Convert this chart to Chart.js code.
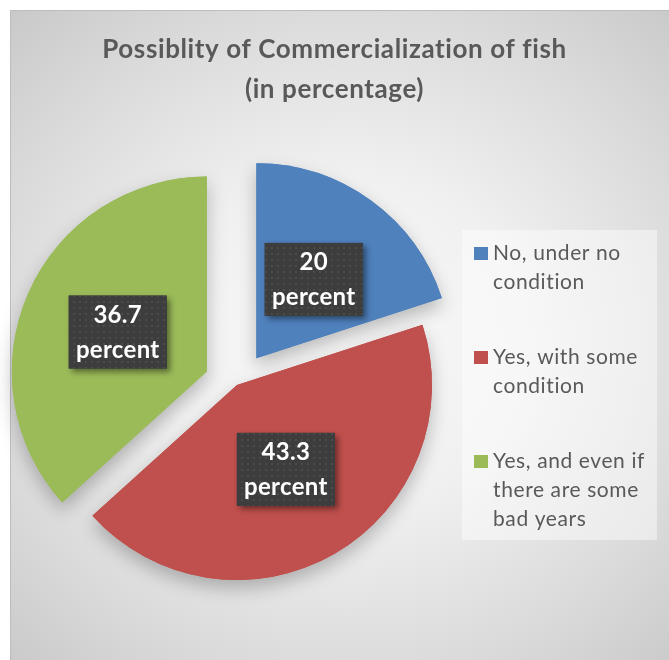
<!DOCTYPE html>
<html><head><meta charset="utf-8">
<script src="https://cdn.jsdelivr.net/npm/chart.js@4"></script>
<style>
html,body{margin:0;padding:0;width:669px;height:660px;overflow:hidden;background:#fff;}
#frame{position:absolute;left:10px;top:10px;width:700px;height:700px;border:1px solid #bdbdbd;
 background:radial-gradient(ellipse 520px 480px at 335px 330px,#fafafa 0%,#f0f0f0 35%,#dadada 70%,#c5c5c5 100%);}
#wrap{position:absolute;left:0;top:0;width:669px;height:660px;}
</style></head><body>
<div id="frame"></div>
<div id="wrap"><canvas id="c" width="669" height="660"></canvas></div>
<script>
const categories = [['No, under no','condition'],['Yes, with some','condition'],['Yes, and even if','there are some','bad years']];
const values = [20, 43.3, 36.7];
const valueUnit = 'percent';
const titleLines = ['Possiblity of Commercialization of fish','(in percentage)'];
const colors = ['#4F81BD','#C0504D','#9BBB59'];
const explode = [33, 0, 33];

const FONT = 'Lato, "Open Sans", sans-serif';
const TEXT = '#595959';

function offsetFor(arc, i){
  const mid = (arc.startAngle + arc.endAngle)/2;
  return {x: Math.cos(mid)*explode[i], y: Math.sin(mid)*explode[i]};
}

const explodePlugin = {
  id:'explode',
  beforeDatasetDraw(chart, args){
    const ctx = chart.ctx;
    const arcs = args.meta.data;
    arcs.forEach((arc,i)=>{
      const o = offsetFor(arc,i);
      ctx.save();
      ctx.shadowColor='rgba(0,0,0,0.25)'; ctx.shadowBlur=18; ctx.shadowOffsetY=8;
      ctx.translate(o.x,o.y);
      arc.draw(ctx);
      ctx.restore();
    });
    arcs.forEach((arc,i)=>{
      const o = offsetFor(arc,i);
      ctx.save();
      ctx.translate(o.x,o.y);
      arc.draw(ctx);
      ctx.restore();
    });
    return false;
  }
};

let patternCanvas = document.createElement('canvas');
patternCanvas.width = 6; patternCanvas.height = 6;
(function(){const p=patternCanvas.getContext('2d');p.fillStyle='#3d3d3d';p.fillRect(0,0,6,6);p.fillStyle='#4b4b4b';p.fillRect(1,1,2,2);})();

const labelPlugin = {
  id:'boxLabels',
  afterDatasetsDraw(chart){
    const ctx = chart.ctx;
    const meta = chart.getDatasetMeta(0);
    const pattern = ctx.createPattern(patternCanvas,'repeat');
    meta.data.forEach((arc,i)=>{
      const p = arc.tooltipPosition();
      const o = offsetFor(arc,i);
      const cx = p.x+o.x, cy = p.y+o.y;
      const w = 98, h = 73;
      ctx.save();
      ctx.shadowColor='rgba(0,0,0,0.45)'; ctx.shadowBlur=6; ctx.shadowOffsetX=3; ctx.shadowOffsetY=3;
      ctx.fillStyle='#3d3d3d';
      ctx.fillRect(cx-w/2, cy-h/2, w, h);
      ctx.restore();
      ctx.save();
      ctx.fillStyle=pattern;
      ctx.fillRect(cx-w/2, cy-h/2, w, h);
      ctx.fillStyle='#ffffff';
      ctx.font='bold 24px '+FONT;
      ctx.letterSpacing='0.3px';
      ctx.textAlign='center'; ctx.textBaseline='middle';
      ctx.fillText(String(values[i]), cx, cy-17);
      ctx.fillText(valueUnit, cx, cy+18);
      ctx.restore();
    });
  }
};

const titleLegendPlugin = {
  id:'titleLegend',
  afterDraw(chart){
    const ctx = chart.ctx;
    ctx.save();
    ctx.fillStyle=TEXT;
    ctx.font='bold 26px '+FONT;
    ctx.letterSpacing='0.6px';
    ctx.textAlign='center'; ctx.textBaseline='middle';
    titleLines.forEach((t,k)=>ctx.fillText(t, chart.width/2, 50+k*40));
    // legend
    ctx.fillStyle='rgba(255,255,255,0.45)';
    ctx.fillRect(462,230,195,310);
    ctx.font='21px '+FONT;
    ctx.letterSpacing='0.6px';
    ctx.textAlign='left';
    categories.forEach((lines,i)=>{
      const y0 = 253 + i*104;
      ctx.fillStyle=colors[i];
      ctx.fillRect(474, y0-6, 14, 13);
      ctx.fillStyle=TEXT;
      lines.forEach((l,k)=>ctx.fillText(l, 493, y0+k*29));
    });
    ctx.restore();
  }
};

new Chart(document.getElementById('c'), {
  type:'pie',
  data:{
    labels: categories,
    datasets:[{data: values, backgroundColor: colors, borderWidth:0}]
  },
  options:{
    responsive:false,
    animation:false,
    layout:{padding:{top:190,left:10,right:205,bottom:80}},
    plugins:{legend:{display:false}, title:{display:false}, tooltip:{enabled:false}}
  },
  plugins:[explodePlugin, labelPlugin, titleLegendPlugin]
});
</script>
</body></html>
